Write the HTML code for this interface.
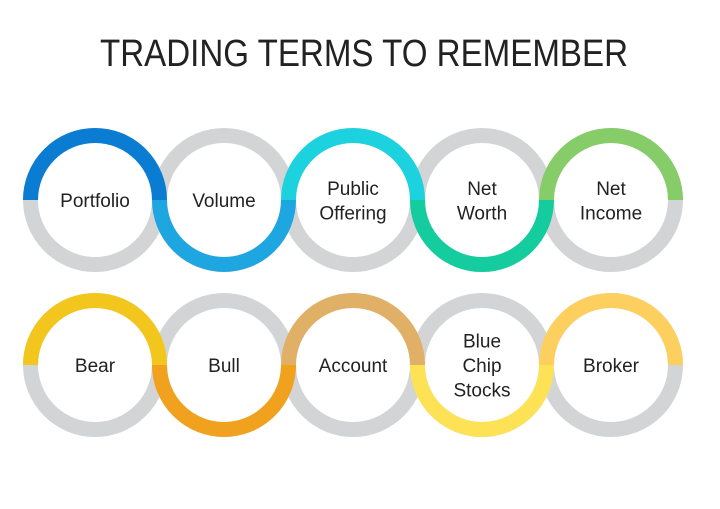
<!DOCTYPE html>
<html><head><meta charset="utf-8"><style>
html,body{margin:0;padding:0;background:#fff}
svg{display:block}
text{font-family:"Liberation Sans","DejaVu Sans",sans-serif;fill:#222}
</style></head><body>
<svg width="720" height="509" viewBox="0 0 720 509" xmlns="http://www.w3.org/2000/svg">
<rect width="720" height="509" fill="#fff"/>
<text x="100" y="66" font-size="38" textLength="528" lengthAdjust="spacingAndGlyphs">TRADING TERMS TO REMEMBER</text>
<g id="rings"></g>
</svg>
<script>
const terms1 = [["Portfolio"],["Volume"],["Public","Offering"],["Net","Worth"],["Net","Income"]];
const terms2 = [["Bear"],["Bull"],["Account"],["Blue","Chip","Stocks"],["Broker"]];
const colors1 = ["#0a7dd2","#1ea6e0","#1cd2de","#14cc9e","#86cc68"];
const colors2 = ["#f2c61c","#f0a21e","#e0b066","#fde256","#fdcf5e"];
const cxs=[95,224,353,482,611];
const NS="http://www.w3.org/2000/svg";
const g=document.getElementById('rings');
const R=64.5,W=15;
function row(terms,colors,cy,rowName){
  // gray rings first
  cxs.forEach((cx,i)=>{
    const c=document.createElementNS(NS,'circle');
    
    
    c.setAttribute('cx',cx);c.setAttribute('cy',cy);c.setAttribute('r',R);
    c.setAttribute('fill','none');c.setAttribute('stroke','#d3d4d6');c.setAttribute('stroke-width',W);
    g.appendChild(c);
  });
  cxs.forEach((cx,i)=>{
    const top=i%2===0;
    const p=document.createElementNS(NS,'path');
    
    
    const d=top?`M${cx-R},${cy} A${R},${R} 0 0 1 ${cx+R},${cy}`:`M${cx-R},${cy} A${R},${R} 0 0 0 ${cx+R},${cy}`;
    p.setAttribute('d',d);p.setAttribute('fill','none');
    p.setAttribute('stroke',colors[i]);p.setAttribute('stroke-width',W);
    g.appendChild(p);
  });
  cxs.forEach((cx,i)=>{
    const lines=terms[i];const lh=24.5;
    const y0=cy+7-(lines.length-1)*lh/2;
    const t=document.createElementNS(NS,'text');
    
    
    t.setAttribute('text-anchor','middle');t.setAttribute('font-size','19');
    lines.forEach((l,j)=>{
      const s=document.createElementNS(NS,'tspan');
      s.setAttribute('x',cx);s.setAttribute('y',y0+j*lh);s.textContent=l;t.appendChild(s);
    });
    g.appendChild(t);
  });
}
row(terms1,colors1,200,'top-row');
row(terms2,colors2,365,'bottom-row');
</script>
</body></html>
